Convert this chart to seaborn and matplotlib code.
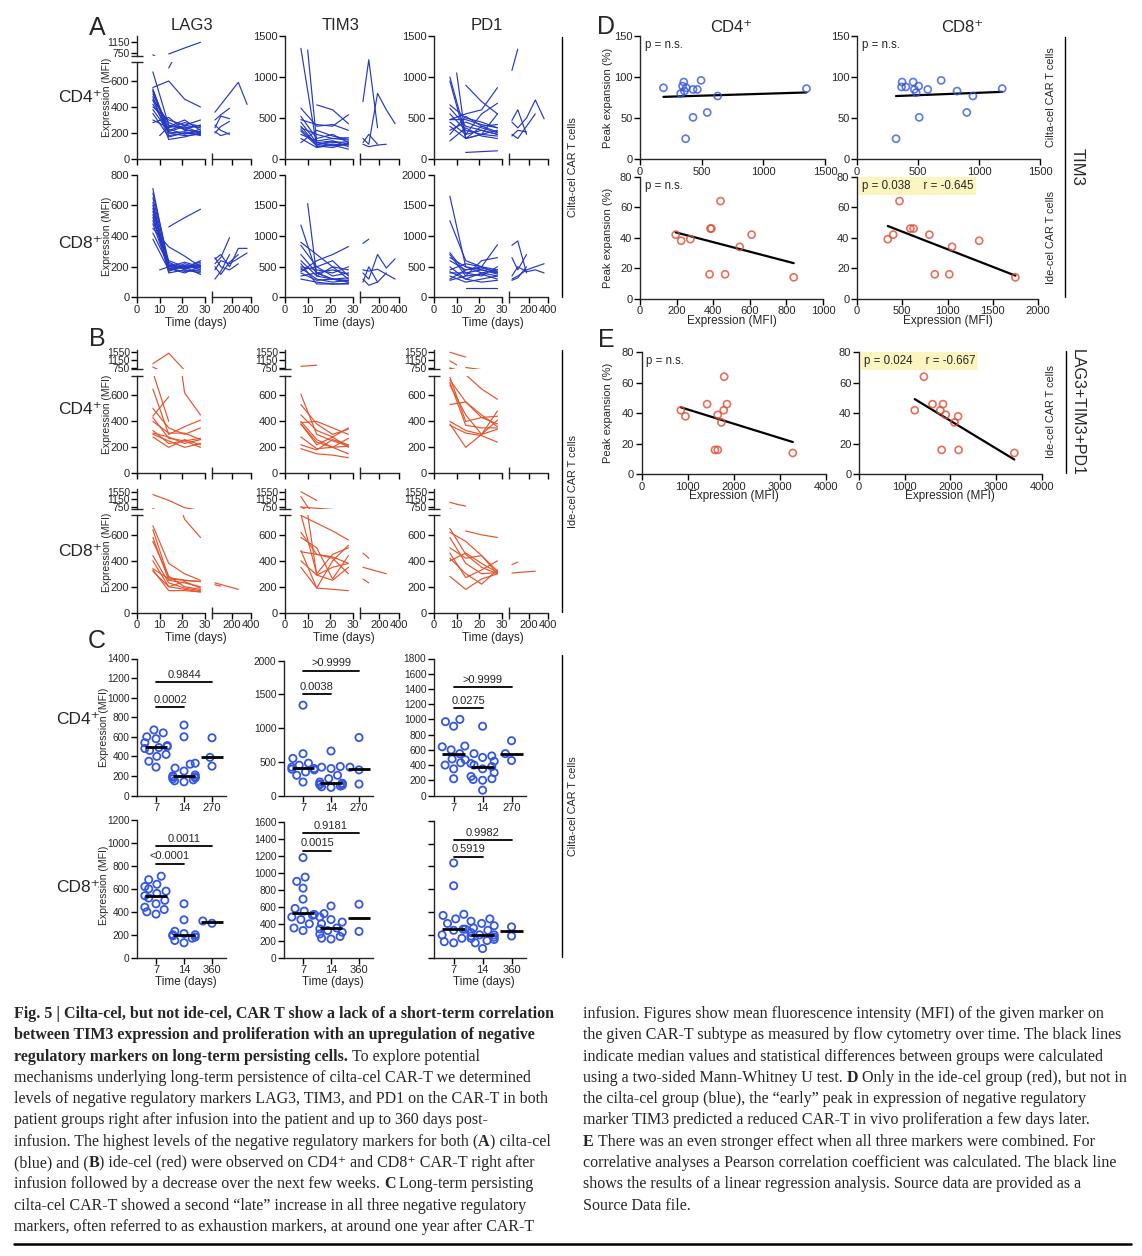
import numpy as np
import pandas as pd
import matplotlib
matplotlib.use("Agg")
import matplotlib.pyplot as plt
import seaborn as sns
from matplotlib.lines import Line2D

sns.set_style("ticks")
SANS = ["Liberation Sans", "DejaVu Sans"]
SERIF = ["Liberation Serif", "DejaVu Serif"]
plt.rcParams["font.family"] = SANS
plt.rcParams["axes.linewidth"] = 1.0

n = np.nan
BLUE_LINE = "#2538c4"
RED_LINE = "#e5532c"
BLUE_PT = "#3456e0"
RED_PT = "#e04b32"

# ---------------- time grids ----------------
EARLY_DAYS = [7, 10, 14, 21, 28]
LATE_DAYS = [30, 90, 180, 270, 360]

# ---------------- Panel A: cilta-cel (blue) ----------------
A_LAG3_CD4 = [
    [670, n, 260, 230, 200], [540, n, 200, 180, 190], [530, n, 220, 260, 240],
    [520, n, 180, 200, 210], [500, n, 250, 300, 220], [480, n, 150, 170, 200],
    [460, n, 280, 230, 260], [450, n, 200, 210, 180], [420, n, 230, 190, 230],
    [400, n, 300, 260, 300], [380, n, 210, 250, 200], [350, n, 170, 200, 190],
    [300, n, 240, 280, 250], [280, n, 320, 220, 210], [550, n, 600, 460, 400],
    [n, n, 700, 930, 1150], [n, 180, 250, 240, 260],
]
A_LAG3_CD4_LATE = [
    [360, n, n, 590, 420], [300, 340, 390, n, n], [240, 330, 310, n, n],
    [210, 180, 200, n, n], [200, 250, 290, n, n], [260, 220, 190, n, n],
]
A_TIM3_CD4 = [
    [1350, n, 150, 180, 170], [620, n, 400, 420, 350], [520, n, 250, 300, 200],
    [450, n, 200, 160, 180], [400, n, 170, 220, 150], [380, n, 300, 250, 230],
    [360, n, 180, 200, 210], [340, n, 160, 140, 190], [300, n, 220, 250, 260],
    [250, n, 140, 170, 120], [200, n, 350, 280, 240], [n, n, 660, 600, 430],
    [n, 1330, 200, 220, 180], [480, n, 420, 400, 540],
]
A_TIM3_CD4_LATE = [
    [700, 1210, 380, n, n], [250, 180, 800, 600, 430], [180, 150, 170, 180, n],
    [200, 300, 180, n, n],
]
A_PD1_CD4 = [
    [1000, n, 300, 350, 300], [950, n, 250, 400, 330], [660, n, 500, 450, 380],
    [620, n, 400, 350, 300], [550, n, 350, 300, 550], [480, n, 480, 420, 380],
    [450, n, 300, 550, 680], [400, n, 250, 300, 280], [350, n, 450, 380, 320],
    [300, n, 520, 400, 420], [220, n, 380, 280, 250], [n, 1050, 250, 300, 350],
    [n, n, 80, 90, 100], [n, n, 900, 700, 550], [480, n, 550, 600, 870],
]
A_PD1_CD4_LATE = [
    [1080, 1340, n, n, n], [470, 600, 300, n, n], [450, 380, 500, 720, 490],
    [300, 250, 400, 550, n], [280, 350, 330, n, n],
]
A_LAG3_CD8 = [
    [710, n, 200, 190, 200], [680, n, 230, 180, 170], [650, n, 210, 200, 230],
    [620, n, 180, 220, 190], [600, n, 190, 160, 200], [580, n, 170, 210, 180],
    [560, n, 220, 190, 220], [540, n, 160, 180, 160], [520, n, 200, 230, 200],
    [500, n, 240, 200, 210], [480, n, 190, 170, 180], [450, n, 330, 270, 200],
    [420, n, 210, 190, 240], [380, n, 180, 200, 150], [n, n, 460, 520, 575],
    [n, 180, 200, 190, 210],
]
A_LAG3_CD8_LATE = [
    [250, 280, 200, 320, 320], [220, 260, 390, n, n], [200, 150, 230, 280, n],
    [180, 240, 220, n, 290], [260, 200, 180, 220, n], [120, 170, 280, n, n],
]
A_TIM3_CD8 = [
    [1180, n, 400, 300, 280], [900, n, 700, 500, 450], [850, n, 500, 600, 350],
    [700, n, 400, 300, 250], [600, n, 350, 500, 300], [500, n, 450, 400, 500],
    [480, n, 300, 250, 280], [450, n, 500, 350, 400], [420, n, 600, 700, 830],
    [400, n, 280, 300, 250], [350, n, 400, 450, 380], [300, n, 250, 220, 230],
    [n, 1530, 350, 300, 320], [550, n, 220, 220, 220],
]
A_TIM3_CD8_LATE = [
    [880, 950, n, n, n], [400, 300, 700, 480, 630], [300, 200, 250, 400, n],
    [450, 430, 460, n, 300], [250, 500, 250, n, n],
]
A_PD1_CD8 = [
    [1650, n, 500, 450, 400], [1250, n, 600, 500, 450], [730, n, 400, 350, 500],
    [700, n, 350, 600, 650], [650, n, 500, 400, 350], [600, n, 450, 480, 420],
    [500, n, 300, 400, 450], [450, n, 550, 500, 400], [400, n, 400, 450, 380],
    [350, n, 250, 300, 350], [300, n, 450, 500, 860], [280, n, 350, 380, 300],
    [n, n, 150, 150, 150], [420, n, 300, 250, 280],
]
A_PD1_CD8_LATE = [
    [850, 920, 400, n, n], [650, 450, 700, n, n], [300, 350, 450, 500, 550],
    [350, 500, 420, 450, 400], [280, 320, 500, n, n],
]

# ---------------- Panel B: ide-cel (red) ----------------
B_LAG3_CD4 = [
    [960, n, 1500, 620, 450], [780, n, 400, n, n], [650, n, 300, 360, 410],
    [500, n, 350, 300, 350], [440, n, 590, n, n], [430, n, 270, 250, 270],
    [400, n, 310, 310, 260], [330, n, 230, 250, 200], [300, n, 250, 200, 230],
    [280, n, 200, 260, 220], [310, n, 280, 230, 260],
]
B_TIM3_CD4 = [
    [820, n, 880, n, n], [610, n, 300, 250, 210], [530, n, 380, 300, 340],
    [450, n, 330, 280, 350], [390, n, 400, 350, 300], [380, n, 240, 200, 150],
    [380, n, 220, 280, 200], [280, n, 190, 200, 270], [220, n, 180, 260, 220],
    [190, n, 150, 140, 120], [400, n, 260, 200, 210],
]
B_PD1_CD4 = [
    [1550, n, 1300, n, n], [1100, 900, n, n, n], [740, n, 400, 430, 440],
    [720, n, 550, 450, 360], [700, n, 370, 350, 350], [680, n, 450, 300, 480],
    [530, n, 550, 430, 380], [400, n, 330, 300, 410], [380, n, 200, 300, 340],
    [370, n, 310, 290, 240], [n, n, 760, 650, 570],
]
B_LAG3_CD8 = [
    [1400, n, 1100, 720, 580], [670, n, 380, 300, 250], [640, n, 270, 250, 240],
    [580, n, 250, 230, 200], [550, n, 280, 200, 180], [440, n, 230, 190, 170],
    [400, n, 200, 180, 160], [340, n, 260, 250, 240], [330, n, 170, 170, 160],
    [320, n, 200, 240, 190],
]
B_LAG3_CD8_LATE = [[230, n, n, 180, n], [215, 205, n, n, n]]
B_TIM3_CD8 = [
    [1550, n, 1100, n, n], [1300, 760, n, n, n], [750, n, 690, 630, 560],
    [760, n, 300, 450, 500], [620, n, 450, 430, 380], [580, n, 500, 260, 440],
    [480, n, 190, 180, 170], [470, n, 450, 420, 300], [400, n, 290, 350, 380],
    [350, n, 190, 400, 520], [n, 760, 290, 250, 350],
]
B_TIM3_CD8_LATE = [[460, 420, n, n, n], [350, n, n, 300, n], [260, 230, n, n, n]]
B_PD1_CD8 = [
    [1000, 900, n, n, n], [n, 900, 800, n, n], [650, n, 450, 350, 300],
    [620, n, 550, 440, 320], [580, n, 380, 300, 310], [500, n, 420, 440, 300],
    [460, n, 270, 330, 400], [420, n, 300, 220, 330], [400, n, 460, 380, 310],
    [280, n, 180, 260, 300], [n, n, 630, 600, 580],
]
B_PD1_CD8_LATE = [[370, 390, n, n, n], [305, 310, n, 320, n]]

# ---------------- Panel C: cilta-cel dot plots ----------------
C_CATS_CD4 = ["7", "14", "270"]
C_CATS_CD8 = ["7", "14", "360"]
C_LAG3_CD4 = [
    [670, 640, 600, 580, 540, 510, 500, 490, 480, 460, 420, 400, 350, 290],
    [720, 600, 330, 320, 280, 250, 210, 200, 190, 180, 170, 150, 140, 190, 160],
    [590, 390, 300],
]
C_TIM3_CD4 = [
    [1340, 620, 550, 480, 450, 420, 400, 390, 380, 350, 300, 200],
    [660, 430, 420, 400, 300, 250, 200, 180, 170, 160, 150, 140, 130, 120, 180],
    [860, 420, 380, 170],
]
C_PD1_CD4 = [
    [1000, 970, 910, 650, 640, 600, 550, 480, 470, 430, 400, 350, 220],
    [910, 550, 520, 500, 450, 420, 400, 380, 350, 300, 250, 220, 210, 200, 70],
    [720, 550, 460],
]
C_LAG3_CD8 = [
    [710, 680, 640, 620, 600, 580, 560, 540, 520, 500, 470, 440, 420, 400, 380],
    [470, 330, 230, 210, 200, 190, 180, 170, 150, 130, 200],
    [300, 320],
]
C_TIM3_CD8 = [
    [1180, 950, 900, 820, 690, 580, 550, 510, 500, 480, 450, 400, 350, 320],
    [610, 520, 480, 450, 420, 400, 350, 320, 300, 280, 250, 230, 220, 340],
    [630, 310],
]
C_PD1_CD8 = [
    [830, 630, 380, 370, 340, 300, 250, 250, 240, 200, 170, 140, 130],
    [340, 320, 300, 280, 260, 240, 220, 200, 200, 190, 180, 170, 160, 150, 130, 80],
    [270, 190],
]
C_LAG3_CD4_SIG = [(0, 1, 900, "0.0002"), (0, 2, 1160, "0.9844")]
C_TIM3_CD4_SIG = [(0, 1, 1500, "0.0038"), (0, 2, 1850, ">0.9999")]
C_PD1_CD4_SIG = [(0, 1, 1150, "0.0275"), (0, 2, 1420, ">0.9999")]
C_LAG3_CD8_SIG = [(0, 1, 820, "<0.0001"), (0, 2, 970, "0.0011")]
C_TIM3_CD8_SIG = [(0, 1, 1260, "0.0015"), (0, 2, 1470, "0.9181")]
C_PD1_CD8_SIG = [(0, 1, 885, "0.5919"), (0, 2, 1030, "0.9982")]

# ---------------- Panels D / E: correlations ----------------
D_CILTA_CD4_X = [190, 330, 345, 355, 360, 370, 375, 430, 430, 465, 495, 545, 630, 1350]
D_CILTA_CD4_Y = [87, 80, 89, 94, 83, 25, 87, 51, 85, 85, 96, 57, 77, 86]
D_CILTA_CD8_X = [320, 365, 370, 400, 460, 470, 485, 505, 510, 580, 690, 820, 900, 950, 1190]
D_CILTA_CD8_Y = [25, 88, 94, 88, 94, 85, 81, 89, 51, 85, 96, 83, 57, 77, 86]
D_IDE_CD4_X = [195, 225, 275, 380, 385, 390, 440, 465, 545, 610, 840]
D_IDE_CD4_Y = [42, 38, 39, 16, 46, 46, 64, 16, 34, 42, 14]
D_IDE_CD8_X = [340, 400, 470, 590, 625, 800, 860, 1020, 1050, 1350, 1750]
D_IDE_CD8_Y = [39, 42, 64, 46, 46, 42, 16, 16, 34, 38, 14]
E_CD4_X = [850, 950, 1420, 1590, 1650, 1650, 1730, 1780, 1790, 1850, 3280]
E_CD4_Y = [42, 38, 46, 16, 16, 39, 34, 42, 64, 46, 14]
E_CD8_X = [1220, 1420, 1610, 1780, 1810, 1840, 1900, 2090, 2170, 2180, 3400]
E_CD8_Y = [42, 64, 46, 42, 16, 46, 39, 34, 38, 16, 14]

# ---------------- caption ----------------
CAPTION_LEFT = [
    "**Fig. 5 | Cilta-cel, but not ide-cel, CAR T show a lack of a short-term correlation**",
    "**between TIM3 expression and proliferation with an upregulation of negative**",
    "**regulatory markers on long-term persisting cells.** To explore potential",
    "mechanisms underlying long-term persistence of cilta-cel CAR-T we determined",
    "levels of negative regulatory markers LAG3, TIM3, and PD1 on the CAR-T in both",
    "patient groups right after infusion into the patient and up to 360 days post-",
    "infusion. The highest levels of the negative regulatory markers for both (**A**) cilta-cel",
    "(blue) and (**B**) ide-cel (red) were observed on CD4\u207a and CD8\u207a CAR-T right after",
    "infusion followed by a decrease over the next few weeks. **C** Long-term persisting",
    "cilta-cel CAR-T showed a second \u201clate\u201d increase in all three negative regulatory",
    "markers, often referred to as exhaustion markers, at around one year after CAR-T",
]
CAPTION_RIGHT = [
    "infusion. Figures show mean fluorescence intensity (MFI) of the given marker on",
    "the given CAR-T subtype as measured by flow cytometry over time. The black lines",
    "indicate median values and statistical differences between groups were calculated",
    "using a two-sided Mann-Whitney U test. **D** Only in the ide-cel group (red), but not in",
    "the cilta-cel group (blue), the \u201cearly\u201d peak in expression of negative regulatory",
    "marker TIM3 predicted a reduced CAR-T in vivo proliferation a few days later.",
    "**E** There was an even stronger effect when all three markers were combined. For",
    "correlative analyses a Pearson correlation coefficient was calculated. The black line",
    "shows the results of a linear regression analysis. Source data are provided as a",
    "Source Data file.",
]

# =====================================================================
W, H = 1142, 1256
fig = plt.figure(figsize=(W / 100, H / 100), dpi=100)
fig.patch.set_facecolor("white")


def add_ax(x0, y0, x1, y1):
    return fig.add_axes([x0 / W, 1 - y1 / H, (x1 - x0) / W, (y1 - y0) / H])


def ftext(x, y, s, **kw):
    return fig.text(x / W, 1 - y / H, s, **kw)


def vline(x, y0, y1, lw=1.0):
    fig.add_artist(Line2D([x / W, x / W], [1 - y0 / H, 1 - y1 / H], color="black", lw=lw))


def hline(x0, x1, y, lw=1.0):
    fig.add_artist(Line2D([x0 / W, x1 / W], [1 - y / H, 1 - y / H], color="black", lw=lw))


def to_long(traj, days):
    rows = []
    for pid, vals in enumerate(traj):
        for d, v in zip(days, vals):
            if not np.isnan(v):
                rows.append((pid, d, v))
    return pd.DataFrame(rows, columns=["pid", "day", "value"])


def style_ax(ax):
    for s in ["top", "right"]:
        ax.spines[s].set_visible(False)
    for s in ["left", "bottom"]:
        ax.spines[s].set_linewidth(1.0)
    ax.tick_params(axis="both", which="major", direction="out", length=4, width=1.0,
                   labelsize=8, pad=1.5, color="black")
    ax.set_xlabel("")
    ax.set_ylabel("")
    ax.set_facecolor("none")


def lines(df, ax, color):
    sns.lineplot(data=df, x="day", y="value", units="pid", estimator=None, color=color,
                 lw=0.85, ax=ax, legend=False)


def time_panel(x0, y_zero, y_top, early, late, color, ymax, yticks, xlabels, upper=None):
    axL = add_ax(x0, y_top, x0 + 68, y_zero)
    axR = add_ax(x0 + 75, y_top, x0 + 114, y_zero)
    dfE = to_long(early, EARLY_DAYS)
    lines(dfE, axL, color)
    if late is not None:
        lines(to_long(late, LATE_DAYS), axR, color)
    axL.set_xlim(0, 30)
    axL.set_ylim(0, ymax)
    axR.set_xlim(0, 400)
    axR.set_ylim(0, ymax)
    style_ax(axL)
    style_ax(axR)
    axR.spines["left"].set_visible(False)
    axR.set_yticks([])
    axL.set_xticks([0, 10, 20, 30])
    axL.set_yticks(yticks)
    axL.set_xticks([30], minor=True)
    axR.set_xticks([200, 400])
    axR.set_xticks([0], minor=True)
    for a in (axL, axR):
        a.tick_params(axis="x", which="minor", direction="inout", length=8, width=1.0)
    if not xlabels:
        axL.set_xticklabels([])
        axR.set_xticklabels([])
    if upper is not None:
        yt, yb, lo, hi, ticks = upper
        axU = add_ax(x0, yt, x0 + 68, yb)
        lines(dfE, axU, color)
        axU.set_xlim(0, 30)
        axU.set_ylim(lo, hi)
        style_ax(axU)
        axU.spines["bottom"].set_visible(False)
        axU.set_xticks([])
        axU.set_yticks(ticks)
        axU.tick_params(axis="y", labelsize=7.5, pad=1)
        axU.set_yticks([lo], minor=True)
        axU.tick_params(axis="y", which="minor", direction="inout", length=8, width=1.0)
        axL.set_yticks([ymax], minor=True)
        axL.tick_params(axis="y", which="minor", direction="inout", length=8, width=1.0)
    if xlabels:
        ftext(x0 + 59, y_zero + 25, "Time (days)", fontsize=8.5, ha="center", va="center")


# ---------------- draw A ----------------
COLX = [137, 285, 434]
time_panel(COLX[0], 159, 61.5, A_LAG3_CD4, A_LAG3_CD4_LATE, BLUE_LINE, 750, [0, 200, 400, 600], False,
           upper=(36, 55.5, 642, 1392, [750, 1150]))
time_panel(COLX[1], 159, 36, A_TIM3_CD4, A_TIM3_CD4_LATE, BLUE_LINE, 1500, [0, 500, 1000, 1500], False)
time_panel(COLX[2], 159, 36, A_PD1_CD4, A_PD1_CD4_LATE, BLUE_LINE, 1500, [0, 500, 1000, 1500], False)
time_panel(COLX[0], 297.5, 174.7, A_LAG3_CD8, A_LAG3_CD8_LATE, BLUE_LINE, 800, [0, 200, 400, 600, 800], True)
time_panel(COLX[1], 297.5, 174.7, A_TIM3_CD8, A_TIM3_CD8_LATE, BLUE_LINE, 2000, [0, 500, 1000, 1500, 2000], True)
time_panel(COLX[2], 297.5, 174.7, A_PD1_CD8, A_PD1_CD8_LATE, BLUE_LINE, 2000, [0, 500, 1000, 1500, 2000], True)

# ---------------- draw B ----------------
B_UP_CD4 = (350, 369.5, 657, 1669, [750, 1150, 1550])
B_UP_CD8 = (489.4, 508.9, 657, 1669, [750, 1150, 1550])
MAIN_B = [0, 200, 400, 600]
time_panel(COLX[0], 473.3, 376, B_LAG3_CD4, None, RED_LINE, 750, MAIN_B, False, upper=B_UP_CD4)
time_panel(COLX[1], 473.3, 376, B_TIM3_CD4, None, RED_LINE, 750, MAIN_B, False, upper=B_UP_CD4)
time_panel(COLX[2], 473.3, 376, B_PD1_CD4, None, RED_LINE, 750, MAIN_B, False, upper=B_UP_CD4)
time_panel(COLX[0], 612.7, 515.4, B_LAG3_CD8, B_LAG3_CD8_LATE, RED_LINE, 750, MAIN_B, True, upper=B_UP_CD8)
time_panel(COLX[1], 612.7, 515.4, B_TIM3_CD8, B_TIM3_CD8_LATE, RED_LINE, 750, MAIN_B, True, upper=B_UP_CD8)
time_panel(COLX[2], 612.7, 515.4, B_PD1_CD8, B_PD1_CD8_LATE, RED_LINE, 750, MAIN_B, True, upper=B_UP_CD8)


# ---------------- draw C ----------------
def dot_panel(x0, x1, y_top, y_zero, groups, cats, ymax, yticks, sigs, ylabels=True, xlabel=False):
    ax = add_ax(x0, y_top, x1, y_zero)
    df = pd.DataFrame([(c, v) for c, vals in zip(cats, groups) for v in vals], columns=["day", "value"])
    ax.set_ylim(0, ymax)
    sns.swarmplot(data=df, x="day", y="value", order=cats, color=BLUE_PT, size=5.2, ax=ax,
                  warn_thresh=1.0, zorder=2)
    for coll in list(ax.collections):
        coll.set_facecolor("none")
        coll.set_edgecolor(BLUE_PT)
        coll.set_linewidth(1.3)
    sns.boxplot(data=df, x="day", y="value", order=cats, ax=ax, showbox=False, showcaps=False,
                showfliers=False, whis=0, width=0.8, linecolor="black",
                medianprops=dict(color="black", lw=2.0, zorder=5),
                whiskerprops=dict(visible=False))
    style_ax(ax)
    ax.set_xlim(-0.68, 2.5)
    ax.set_ylim(0, ymax)
    ax.set_yticks(yticks)
    ax.tick_params(axis="y", labelsize=7.3)
    if not ylabels:
        ax.set_yticklabels([])
    for i, j, h, lab in sigs:
        ax.plot([i, j], [h, h], color="black", lw=1.3, clip_on=False)
        ax.text((i + j) / 2, h + ymax * 0.018, lab, ha="center", va="bottom", fontsize=8)
    if xlabel:
        ftext((x0 + x1) / 2 + 4, y_zero + 24, "Time (days)", fontsize=8.5, ha="center", va="center")
    return ax


dot_panel(137, 226, 658.5, 795.5, C_LAG3_CD4, C_CATS_CD4, 1400, range(0, 1401, 200), C_LAG3_CD4_SIG)
dot_panel(284, 373, 660.7, 795.5, C_TIM3_CD4, C_CATS_CD4, 2000, range(0, 2001, 500), C_TIM3_CD4_SIG)
dot_panel(434, 526, 658.5, 795.5, C_PD1_CD4, C_CATS_CD4, 1800, range(0, 1801, 200), C_PD1_CD4_SIG)
dot_panel(137, 226, 820, 957.7, C_LAG3_CD8, C_CATS_CD8, 1200, range(0, 1201, 200), C_LAG3_CD8_SIG, xlabel=True)
dot_panel(284, 373, 822, 957.7, C_TIM3_CD8, C_CATS_CD8, 1600, range(0, 1601, 200), C_TIM3_CD8_SIG, xlabel=True)
dot_panel(434, 526, 820.7, 957.7, C_PD1_CD8, C_CATS_CD8, 1200, range(0, 1201, 200), C_PD1_CD8_SIG,
          ylabels=False, xlabel=True)


# ---------------- draw D / E ----------------
def corr_panel(box, xs, ys, color, xlim, xticks, ylim, yticks, ptext, highlight=False, xlabel=False, ylabel=False):
    ax = add_ax(*box)
    sns.regplot(x=np.array(xs, float), y=np.array(ys, float), ax=ax, ci=None, color=color,
                scatter_kws=dict(s=26, linewidths=1.2, zorder=3),
                line_kws=dict(color="black", lw=1.6, zorder=2))
    coll = ax.collections[0]
    coll.set_facecolor("none")
    coll.set_edgecolor(color)
    style_ax(ax)
    ax.set_xlim(*xlim)
    ax.set_ylim(*ylim)
    ax.set_xticks(xticks)
    ax.set_yticks(yticks)
    kw = {}
    if highlight:
        kw["bbox"] = dict(boxstyle="square,pad=0.25", fc="#fcf5c0", ec="none")
    ax.text(0.025, 0.975, ptext, transform=ax.transAxes, ha="left", va="top", fontsize=8.3, **kw)
    x0, y0, x1, y1 = box
    if xlabel:
        ftext((x0 + x1) / 2, y1 + 22, "Expression (MFI)", fontsize=8.5, ha="center", va="center")
    if ylabel:
        ftext(608, (y0 + y1) / 2, "Peak expansion (%)", fontsize=8, rotation=90, ha="center", va="center")
    return ax


corr_panel((640, 36, 825, 159.3), D_CILTA_CD4_X, D_CILTA_CD4_Y, BLUE_PT, (0, 1500), [0, 500, 1000, 1500],
           (0, 150), [0, 50, 100, 150], "p = n.s.", ylabel=True)
corr_panel((857, 36, 1040, 159.3), D_CILTA_CD8_X, D_CILTA_CD8_Y, BLUE_PT, (0, 1500), [0, 500, 1000, 1500],
           (0, 150), [0, 50, 100, 150], "p = n.s.")
corr_panel((640, 176.7, 823, 298.7), D_IDE_CD4_X, D_IDE_CD4_Y, RED_PT, (0, 1000), range(0, 1001, 200),
           (0, 80), [0, 20, 40, 60, 80], "p = n.s.", xlabel=True, ylabel=True)
corr_panel((857, 176.7, 1038, 298.7), D_IDE_CD8_X, D_IDE_CD8_Y, RED_PT, (0, 2000), range(0, 2001, 500),
           (0, 80), [0, 20, 40, 60, 80], "p = 0.038    r = -0.645", highlight=True, xlabel=True)
corr_panel((641.7, 352.3, 826, 474.3), E_CD4_X, E_CD4_Y, RED_PT, (0, 4000), range(0, 4001, 1000),
           (0, 80), [0, 20, 40, 60, 80], "p = n.s.", xlabel=True, ylabel=True)
corr_panel((859, 352.3, 1041.7, 474.3), E_CD8_X, E_CD8_Y, RED_PT, (0, 4000), range(0, 4001, 1000),
           (0, 80), [0, 20, 40, 60, 80], "p = 0.024    r = -0.667", highlight=True, xlabel=True)

# ---------------- panel text ----------------
for letter, (x, y) in zip("ABCDE", [(97, 28), (97, 339), (97, 641), (606, 27), (606, 340)]):
    ftext(x, y, letter, fontsize=18, ha="center", va="center")
for title, x in zip(["LAG3", "TIM3", "PD1"], [192, 341, 487]):
    ftext(x, 26, title, fontsize=12, ha="center", va="center")
ftext(731, 27, "CD4\u207a", fontsize=12, ha="center", va="center")
ftext(962, 27, "CD8\u207a", fontsize=12, ha="center", va="center")
for lab, x, y in [("CD4\u207a", 80, 97), ("CD8\u207a", 80, 243), ("CD4\u207a", 80, 410),
                  ("CD8\u207a", 80, 551), ("CD4\u207a", 78, 720), ("CD8\u207a", 78, 888)]:
    ftext(x, y, lab, fontsize=12.5, ha="center", va="center")
for x, y in [(107, 97), (107, 236), (107, 414), (107, 552), (104, 727), (104, 885)]:
    ftext(x, y, "Expression (MFI)", fontsize=7.5, rotation=90, ha="center", va="center")

vline(562, 37, 297)
ftext(573, 167, "Cilta-cel CAR T cells", fontsize=7.8, rotation=90, ha="center", va="center")
vline(562, 350, 612)
ftext(573, 481, "Ide-cel CAR T cells", fontsize=7.8, rotation=90, ha="center", va="center")
vline(562, 655, 957)
ftext(573, 806, "Cilta-cel CAR T cells", fontsize=7.8, rotation=90, ha="center", va="center")
ftext(1051, 97, "Cilta-cel CAR T cells", fontsize=7.8, rotation=90, ha="center", va="center")
ftext(1051, 237, "Ide-cel CAR T cells", fontsize=7.8, rotation=90, ha="center", va="center")
vline(1065, 37, 297)
ftext(1077, 167, "TIM3", fontsize=12, rotation=270, ha="center", va="center")
ftext(1051, 412, "Ide-cel CAR T cells", fontsize=7.8, rotation=90, ha="center", va="center")
vline(1066, 351, 473)
ftext(1077, 412, "LAG3+TIM3+PD1", fontsize=11.5, rotation=270, ha="center", va="center")

# ---------------- caption ----------------
CAP_FS = 11.5
renderer = fig.canvas.get_renderer()


def text_w(s, bold):
    t = fig.text(0, 0, s, fontsize=CAP_FS, family=SERIF, fontweight="bold" if bold else "normal")
    w = t.get_window_extent(renderer).width
    t.remove()
    return w


SPACE_W = {b: text_w("n n", b) - text_w("nn", b) for b in (False, True)}
N_W = {b: text_w("n", b) for b in (False, True)}


def caption_line(markup, x, y):
    xpos = x
    for i, chunk in enumerate(markup.split("**")):
        if not chunk:
            continue
        bold = i % 2 == 1
        lead = len(chunk) - len(chunk.lstrip(" "))
        trail = len(chunk) - len(chunk.rstrip(" "))
        core = chunk.strip(" ")
        xpos += lead * SPACE_W[bold]
        if core:
            ftext(xpos, y, core, fontsize=CAP_FS, family=SERIF,
                  fontweight="bold" if bold else "normal", ha="left", va="baseline")
            xpos += text_w(core + "n", bold) - N_W[bold]
        xpos += trail * SPACE_W[bold]


for k, line in enumerate(CAPTION_LEFT):
    caption_line(line, 14, 1018 + 21.3 * k)
for k, line in enumerate(CAPTION_RIGHT):
    caption_line(line, 583, 1018 + 21.3 * k)
hline(14, 1131, 1244, lw=1.8)

fig.savefig("out.png", dpi=100, facecolor="white")
